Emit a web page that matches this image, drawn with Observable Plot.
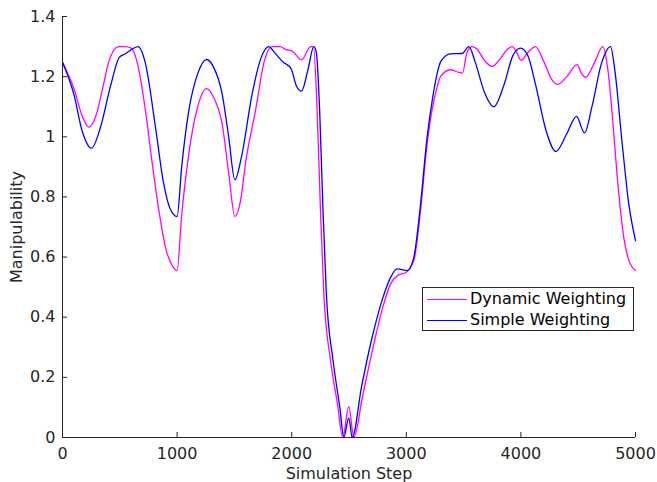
<!DOCTYPE html>
<html><head><meta charset="utf-8">
<script src="https://cdn.jsdelivr.net/npm/d3@7"></script>
<script src="https://cdn.jsdelivr.net/npm/@observablehq/plot@0.6"></script>
<style>
body{margin:0;background:#fff;}
#wrap{position:relative;width:657px;height:482px;font-family:"DejaVu Sans",sans-serif;}
#legend{position:absolute;left:422px;top:287px;width:212px;height:44px;border:1px solid #262626;box-sizing:border-box;background:#fff;font-size:16px;color:#000;}
.item{position:absolute;left:0;height:20px;width:100%;}
.item .sw{position:absolute;left:4px;top:10px;width:40px;height:0;border-top:1px solid;}
.item .lb{position:absolute;left:47px;top:0;line-height:20px;white-space:nowrap;}
</style></head>
<body>
<div id="wrap"></div>
<script>
const seriesNames = ["Dynamic Weighting", "Simple Weighting"];
const seriesColors = ["#ff00ff", "#0000ff"];

const dynSteps = [0,100,171,230,300,350,404,489,550,600,650,724,780,841,900,960,1000,1038,1102,1180,1257,1320,1393,1450,1504,1550,1600,1684,1760,1830,1900,1950,2000,2086,2165,2190,2222,2251,2280,2339,2400,2445,2498,2542,2620,2716,2800,2862,2930,2993,3066,3120,3182,3230,3269,3298,3386,3450,3490,3530,3575,3620,3680,3749,3820,3880,3924,3970,4000,4060,4127,4200,4270,4322,4400,4491,4530,4564,4640,4715,4760,4800,4840,4900,4942,5000];
const dynValues = [1.248,1.16,1.07,1.032,1.08,1.16,1.25,1.30,1.30,1.295,1.25,1.087,0.92,0.755,0.63,0.57,0.555,0.73,0.943,1.10,1.16,1.13,1.043,0.88,0.735,0.78,0.92,1.087,1.25,1.30,1.30,1.29,1.286,1.256,1.30,1.30,1.087,0.755,0.48,0.256,0.11,0,0.103,0,0.14,0.31,0.44,0.51,0.54,0.548,0.589,0.74,0.977,1.10,1.165,1.20,1.223,1.215,1.212,1.28,1.30,1.29,1.255,1.234,1.26,1.29,1.30,1.275,1.254,1.28,1.30,1.25,1.19,1.174,1.20,1.24,1.21,1.198,1.245,1.30,1.22,1.06,0.87,0.66,0.589,0.555];

const simSteps = [0,100,171,253,330,420,497,550,600,660,720,812,880,940,1000,1040,1102,1180,1257,1320,1393,1450,1504,1560,1655,1730,1800,1850,1920,1995,2040,2086,2140,2193,2215,2244,2273,2302,2361,2420,2455,2498,2528,2610,2700,2800,2860,2920,3008,3066,3120,3182,3230,3269,3300,3386,3487,3546,3600,3680,3764,3850,3930,3997,4060,4130,4220,4305,4400,4485,4555,4620,4700,4782,4820,4884,4940,5000];
const simValues = [1.248,1.14,1.02,0.962,1.03,1.17,1.265,1.276,1.29,1.30,1.25,1.03,0.85,0.76,0.735,0.90,1.087,1.21,1.257,1.23,1.143,1.00,0.857,0.93,1.143,1.26,1.30,1.28,1.25,1.226,1.17,1.152,1.22,1.30,1.28,1.087,0.755,0.48,0.256,0.10,0,0.065,0,0.17,0.33,0.47,0.53,0.561,0.555,0.60,0.76,1.00,1.13,1.21,1.25,1.276,1.277,1.30,1.25,1.15,1.10,1.17,1.27,1.295,1.27,1.17,1.02,0.951,1.01,1.068,1.013,1.10,1.24,1.30,1.22,0.977,0.78,0.655];

const xTicks = [0,1000,2000,3000,4000,5000];
const xTickLabels = ["0","1000","2000","3000","4000","5000"];
const yTicks = [0,0.2,0.4,0.6,0.8,1,1.2,1.4];
const yTickLabels = ["0","0.2","0.4","0.6","0.8","1","1.2","1.4"];

const rows = [
  ...dynSteps.map((s,i)=>({step:s, value:dynValues[i], series:seriesNames[0]})),
  ...simSteps.map((s,i)=>({step:s, value:simValues[i], series:seriesNames[1]}))
];

const axisColor = "#262626";
const chart = Plot.plot({
  width: 657, height: 482,
  marginLeft: 62, marginRight: 22, marginTop: 16, marginBottom: 45,
  style: {fontFamily: "DejaVu Sans", fontSize: "16px", color: axisColor, background: "#fff"},
  x: {domain: [0, 5000]},
  y: {domain: [0, 1.4]},
  color: {domain: seriesNames, range: seriesColors},
  marks: [
    Plot.line(rows, {x: "step", y: "value", z: "series", stroke: "series", curve: "monotone-x", strokeWidth: 1.3}),
    Plot.ruleX([0], {stroke: axisColor}),
    Plot.ruleY([0], {stroke: axisColor}),
    Plot.axisX(xTicks, {tickSize: -5, tickPadding: 15, tickFormat: d => xTickLabels[xTicks.indexOf(d)], label: "Simulation Step", labelAnchor: "center", labelOffset: 41, labelArrow: "none"}),
    Plot.axisY(yTicks, {tickSize: -5, tickPadding: 12, tickFormat: d => yTickLabels[yTicks.indexOf(d)], label: "Manipulability", labelAnchor: "center", labelOffset: 52, labelArrow: "none"})
  ]
});
const wrap = document.getElementById("wrap");
wrap.appendChild(chart);

const legend = document.createElement("div");
legend.id = "legend";
seriesNames.forEach((name, i) => {
  const it = document.createElement("div");
  it.className = "item";
  it.style.top = (1 + i * 21) + "px";
  const sw = document.createElement("div");
  sw.className = "sw";
  sw.style.borderTopColor = seriesColors[i];
  const lb = document.createElement("div");
  lb.className = "lb";
  lb.textContent = name;
  it.appendChild(sw); it.appendChild(lb);
  legend.appendChild(it);
});
wrap.appendChild(legend);
</script>
</body></html>
